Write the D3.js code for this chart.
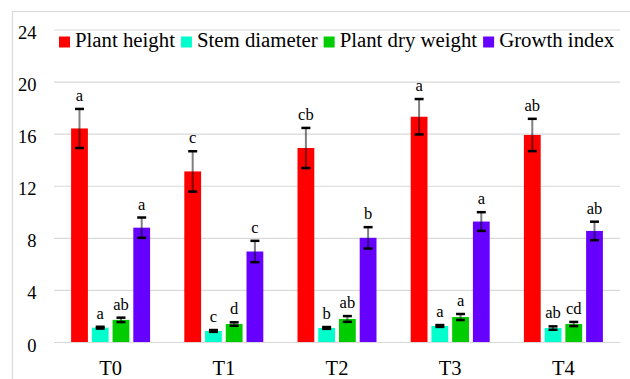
<!DOCTYPE html>
<html>
<head>
<meta charset="utf-8">
<script src="https://cdn.jsdelivr.net/npm/d3@7"></script>
<style>
  body { margin: 0; background: #fff; }
  svg { display: block; }
  svg text { fill: #000; }
</style>
</head>
<body>
<svg id="chart" width="630" height="379"></svg>
<script>
// Treatments and measured traits
const treatments = ["T0", "T1", "T2", "T3", "T4"];
const seriesNames = ["Plant height", "Stem diameter", "Plant dry weight", "Growth index"];
const seriesColors = ["#ff0000", "#00ffcc", "#00cc00", "#6600ff"];

// Means, standard errors and significance letters per trait
const plantHeight      = [16.4, 13.1, 14.9, 17.3, 15.9];
const plantHeightErr   = [1.5, 1.55, 1.54, 1.36, 1.24];
const plantHeightSig   = ["a", "c", "cb", "a", "ab"];

const stemDiameter     = [1.1, 0.85, 1.08, 1.23, 1.07];
const stemDiameterErr  = [0.07, 0.07, 0.07, 0.07, 0.13];
const stemDiameterSig  = ["a", "c", "b", "a", "ab"];

const plantDryWeight    = [1.7, 1.38, 1.77, 1.92, 1.38];
const plantDryWeightErr = [0.17, 0.13, 0.22, 0.23, 0.16];
const plantDryWeightSig = ["ab", "d", "ab", "a", "cd"];

const growthIndex      = [8.78, 6.95, 8.0, 9.25, 8.53];
const growthIndexErr   = [0.78, 0.82, 0.82, 0.72, 0.71];
const growthIndexSig   = ["a", "c", "b", "a", "ab"];

const yTicks = [0, 4, 8, 12, 16, 20, 24];

const seriesValues = [plantHeight, stemDiameter, plantDryWeight, growthIndex];
const seriesErrors = [plantHeightErr, stemDiameterErr, plantDryWeightErr, growthIndexErr];
const seriesLetters = [plantHeightSig, stemDiameterSig, plantDryWeightSig, growthIndexSig];

const chartFont = "'Liberation Serif', 'Times New Roman', Times, serif";

// Flatten into one record per bar
const bars = [];
treatments.forEach((t, i) => {
  seriesNames.forEach((s, j) => {
    bars.push({ treatment: t, series: s, color: seriesColors[j],
                value: seriesValues[j][i], err: seriesErrors[j][i], sig: seriesLetters[j][i] });
  });
});

const svg = d3.select("#chart").attr("font-family", chartFont);
const plot = { left: 54, right: 620, top: 29.5, bottom: 342 };

// Chart area frame
svg.append("rect")
  .attr("x", 12.5).attr("y", 11.5)
  .attr("width", 640).attr("height", 400)
  .attr("fill", "none").attr("stroke", "#d9d9d9").attr("stroke-width", 1.2);

const y = d3.scaleLinear().domain([0, 24]).range([plot.bottom, plot.top]);
const x0 = d3.scaleBand().domain(treatments).range([plot.left, plot.right]).paddingInner(0).paddingOuter(0);
const groupWidth = 79;
const x1 = d3.scaleBand().domain(seriesNames).range([0, groupWidth]).paddingInner(0.19).paddingOuter(0);
const groupStart = t => x0(t) + (x0.bandwidth() - groupWidth) / 2;

// Horizontal gridlines and y tick labels
const yAxis = d3.axisLeft(y).tickValues(yTicks).tickSize(-(plot.right - plot.left)).tickPadding(0).tickFormat(d3.format("d"));
const gy = svg.append("g").attr("transform", `translate(${plot.left},0)`).call(yAxis)
  .attr("font-family", chartFont).attr("font-size", 18.5);
gy.select(".domain").remove();
gy.selectAll(".tick line").attr("stroke", "#d9d9d9").attr("stroke-width", 1.2);
gy.selectAll(".tick text")
  .attr("x", -17.5).attr("dy", null).attr("y", 9)
  .attr("text-anchor", "end").attr("fill", "#000");

// Category labels
const xAxis = d3.axisBottom(x0).tickSize(0).tickPadding(0);
const gx = svg.append("g").attr("transform", `translate(0,${plot.bottom})`).call(xAxis)
  .attr("font-family", chartFont).attr("font-size", 20.5);
gx.select(".domain").remove();
gx.selectAll(".tick text").attr("y", 33).attr("dy", null).attr("fill", "#000");

// Bars
const barX = d => groupStart(d.treatment) + x1(d.series);
svg.append("g").selectAll("rect").data(bars).join("rect")
  .attr("x", barX)
  .attr("y", d => y(d.value))
  .attr("width", x1.bandwidth())
  .attr("height", d => y(0) - y(d.value))
  .attr("fill", d => d.color);

// Error bars
const eg = svg.append("g").selectAll("g").data(bars).join("g")
  .attr("transform", d => `translate(${barX(d) + x1.bandwidth() / 2},0)`);
eg.append("line")
  .attr("y1", d => y(d.value + d.err)).attr("y2", d => y(d.value - d.err))
  .attr("stroke", "#000").attr("stroke-opacity", 0.5).attr("stroke-width", 2);
eg.selectAll("line.cap").data(d => [d.value + d.err, d.value - d.err]).join("line")
  .attr("class", "cap")
  .attr("x1", -4.5).attr("x2", 4.5)
  .attr("y1", v => y(v)).attr("y2", v => y(v))
  .attr("stroke", "#000").attr("stroke-width", 2.5);

// Significance letters above each bar
svg.append("g").attr("font-size", 16.5).selectAll("text").data(bars).join("text")
  .attr("x", d => barX(d) + x1.bandwidth() / 2)
  .attr("y", d => y(d.value + d.err) - 8)
  .attr("text-anchor", "middle")
  .text(d => d.sig);

// Legend laid out left to right
const legend = svg.append("g").attr("transform", "translate(59,42)").attr("font-size", 20.8);
let lx = 0;
seriesNames.forEach((name, j) => {
  const item = legend.append("g").attr("transform", `translate(${lx},0)`);
  item.append("rect").attr("x", 0).attr("y", -5.5).attr("width", 11).attr("height", 11).attr("fill", seriesColors[j]);
  const txt = item.append("text").attr("x", 16).attr("y", 5).text(name);
  lx += 16 + txt.node().getComputedTextLength() + 6;
});
</script>
</body>
</html>
